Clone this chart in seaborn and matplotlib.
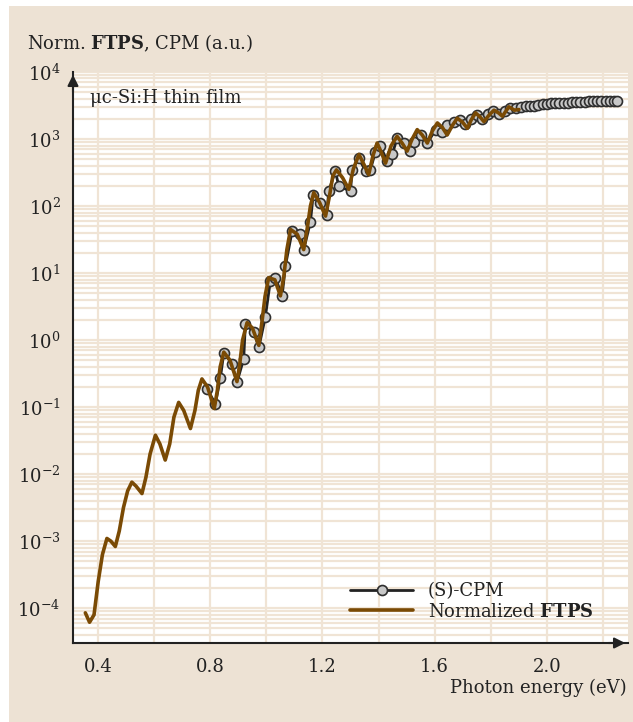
import numpy as np
import pandas as pd
import matplotlib
matplotlib.use("Agg")
import matplotlib.pyplot as plt
import matplotlib.ticker as mticker
from matplotlib.patches import Rectangle
import seaborn as sns

# ---------------- data ----------------
# Normalized FTPS: photon energy (eV) and log10 of signal (a.u.)
ftps_energy = [0.354, 0.369, 0.385, 0.400, 0.415, 0.431, 0.445, 0.461, 0.475, 0.490,
               0.505, 0.520, 0.535, 0.556, 0.570, 0.585, 0.604, 0.620, 0.639, 0.655,
               0.670, 0.687, 0.705, 0.729, 0.745, 0.757, 0.770, 0.790, 0.814, 0.825,
               0.835, 0.848, 0.870, 0.895, 0.905, 0.915, 0.931, 0.950, 0.973, 0.985,
               0.995, 1.008, 1.030, 1.050, 1.062, 1.073, 1.086, 1.110, 1.133, 1.145,
               1.157, 1.169, 1.190, 1.211, 1.225, 1.237, 1.250, 1.272, 1.294, 1.310,
               1.330, 1.348, 1.365, 1.380, 1.395, 1.410, 1.425, 1.445, 1.466, 1.484,
               1.502, 1.520, 1.538, 1.556, 1.574, 1.592, 1.610, 1.628, 1.645, 1.663,
               1.681, 1.700, 1.717, 1.730, 1.746, 1.762, 1.776, 1.795, 1.812, 1.828,
               1.842, 1.855, 1.865, 1.885, 1.901]
ftps_log10 = [-4.07, -4.21, -4.10, -3.60, -3.20, -2.96, -3.00, -3.08, -2.85, -2.50,
              -2.25, -2.12, -2.18, -2.29, -2.05, -1.70, -1.42, -1.55, -1.79, -1.55,
              -1.15, -0.93, -1.05, -1.32, -1.05, -0.75, -0.58, -0.70, -1.02, -0.75,
              -0.40, -0.18, -0.30, -0.62, -0.35, 0.00, 0.26, 0.18, -0.08, 0.30,
              0.65, 0.93, 0.90, 0.66, 0.95, 1.35, 1.65, 1.58, 1.35, 1.65,
              2.00, 2.20, 2.05, 1.85, 2.15, 2.45, 2.54, 2.42, 2.25, 2.55,
              2.77, 2.62, 2.47, 2.75, 2.94, 2.80, 2.64, 2.90, 3.04, 2.94,
              2.82, 3.00, 3.14, 3.06, 2.94, 3.12, 3.24, 3.17, 3.06, 3.20,
              3.31, 3.25, 3.16, 3.28, 3.39, 3.33, 3.26, 3.36, 3.43, 3.39,
              3.34, 3.42, 3.48, 3.43, 3.44]

# (S)-CPM: photon energy (eV) and log10 of signal (a.u.)
cpm_energy = [0.788, 0.818, 0.836, 0.848, 0.877, 0.895, 0.919, 0.925, 0.955, 0.973,
              0.996, 1.014, 1.032, 1.056, 1.068, 1.092, 1.121, 1.133, 1.157, 1.167,
              1.190, 1.216, 1.222, 1.246, 1.258, 1.300, 1.306, 1.330, 1.354, 1.371,
              1.389, 1.407, 1.431, 1.449, 1.466, 1.490, 1.514, 1.526, 1.550, 1.574,
              1.604, 1.627, 1.645, 1.669, 1.690, 1.710, 1.730, 1.750, 1.770, 1.790,
              1.810, 1.830, 1.850, 1.870, 1.890, 1.910, 1.925, 1.940, 1.955, 1.970,
              1.985, 2.000, 2.015, 2.030, 2.045, 2.060, 2.075, 2.090, 2.105, 2.120,
              2.135, 2.150, 2.165, 2.180, 2.195, 2.210, 2.225, 2.240, 2.250]
cpm_log10 = [-0.73, -0.95, -0.56, -0.19, -0.35, -0.63, -0.28, 0.24, 0.12, -0.11,
             0.34, 0.88, 0.93, 0.66, 1.11, 1.63, 1.58, 1.35, 1.76, 2.17,
             2.05, 1.87, 2.22, 2.52, 2.30, 2.22, 2.54, 2.71, 2.52, 2.54,
             2.81, 2.89, 2.67, 2.77, 3.01, 2.94, 2.82, 2.96, 3.06, 2.94,
             3.14, 3.11, 3.21, 3.26, 3.28, 3.22, 3.30, 3.36, 3.30, 3.38,
             3.42, 3.38, 3.42, 3.46, 3.46, 3.48, 3.49, 3.50, 3.50, 3.51,
             3.52, 3.52, 3.53, 3.53, 3.54, 3.54, 3.54, 3.55, 3.55, 3.55,
             3.55, 3.56, 3.56, 3.56, 3.56, 3.56, 3.56, 3.56, 3.56]

x_ticks = [0.4, 0.8, 1.2, 1.6, 2.0]
x_tick_labels = ["0.4", "0.8", "1.2", "1.6", "2.0"]
y_tick_exponents = [-4, -3, -2, -1, 0, 1, 2, 3, 4]

title_text = r"Norm. $\mathbf{FTPS}$, CPM (a.u.)"
xlabel_text = "Photon energy (eV)"
film_text = "μc-Si:H thin film"
cpm_label = "(S)-CPM"
ftps_label = r"Normalized $\mathbf{FTPS}$"

ftps_df = pd.DataFrame({"E": ftps_energy, "S": np.power(10.0, ftps_log10)})
cpm_df = pd.DataFrame({"E": cpm_energy, "S": np.power(10.0, cpm_log10)})

# ---------------- style ----------------
sns.set_style("white")
plt.rcParams["font.family"] = ["DejaVu Serif"]
plt.rcParams["mathtext.fontset"] = "dejavuserif"

BEIGE = "#ede2d4"
GRID = "#f0e4d5"
BROWN = "#7a4a04"
DARK = "#222222"

W, H = 633, 722
fig = plt.figure(figsize=(W / 100, H / 100), dpi=100, facecolor="white")
fig.patches.append(Rectangle((9 / W, 0), 1, (H - 6) / H, transform=fig.transFigure,
                             facecolor=BEIGE, edgecolor="none", zorder=-10))

ax = fig.add_axes([73 / W, 1 - 643 / H, (628 - 73) / W, (643 - 72) / H])
ax.set_facecolor("white")

sns.lineplot(data=cpm_df, x="E", y="S", ax=ax, sort=False, estimator=None,
             color=DARK, lw=2.0, marker="o", markersize=7.2,
             markerfacecolor="#c8c8c8", markeredgecolor="#2e2e2e",
             markeredgewidth=1.2, zorder=3, label=cpm_label)
sns.lineplot(data=ftps_df, x="E", y="S", ax=ax, sort=False, estimator=None,
             color=BROWN, lw=2.6, zorder=4, label=ftps_label)

ax.set_yscale("log")
ax.set_xlim(0.31, 2.29)
ax.set_ylim(10 ** -4.52, 1e4)

ax.set_xticks(x_ticks)
ax.set_xticklabels(x_tick_labels)
ax.xaxis.set_minor_locator(mticker.FixedLocator([0.6, 1.0, 1.4, 1.8, 2.2]))
ax.set_yticks([10.0 ** k for k in y_tick_exponents])
ax.set_yticklabels([r"$10^{%d}$" % k for k in y_tick_exponents])
ax.yaxis.set_minor_locator(mticker.LogLocator(base=10, subs=np.arange(2, 10), numticks=100))
ax.yaxis.set_minor_formatter(mticker.NullFormatter())

ax.grid(True, which="both", color=GRID, lw=1.6, zorder=0)
ax.set_axisbelow(True)
ax.tick_params(axis="both", which="both", length=0, labelsize=13, colors="#222222")
ax.tick_params(axis="y", pad=9)
ax.tick_params(axis="x", pad=11)
ax.set_xlabel("")
ax.set_ylabel("")
ax.xaxis.label.set_visible(False)
ax.yaxis.label.set_visible(False)

for s in ["top", "right"]:
    ax.spines[s].set_visible(False)
for s in ["left", "bottom"]:
    ax.spines[s].set_color(DARK)
    ax.spines[s].set_linewidth(1.5)

ax.annotate("", xy=(0, 1.0), xytext=(0, 0.96), xycoords="axes fraction",
            arrowprops=dict(arrowstyle="-|>", color=DARK, lw=1.5, mutation_scale=16),
            annotation_clip=False)
ax.annotate("", xy=(1.0, 0), xytext=(0.96, 0), xycoords="axes fraction",
            arrowprops=dict(arrowstyle="-|>", color=DARK, lw=1.5, mutation_scale=16),
            annotation_clip=False)

fig.text(27 / W, 1 - 43 / H, title_text, fontsize=13, va="center", ha="left", color="#222")
fig.text(627 / W, 1 - 688 / H, xlabel_text, fontsize=13, va="center", ha="right", color="#222")
fig.text(90 / W, 1 - 98 / H, film_text, fontsize=13, va="center", ha="left", color="#222")

leg = ax.legend(loc="upper left", bbox_to_anchor=(350 / W, 1 - 582 / H),
                bbox_transform=fig.transFigure, frameon=False, fontsize=13,
                handlelength=3.5, handletextpad=0.8, borderpad=0, borderaxespad=0,
                labelspacing=0.15, numpoints=1)
for t in leg.get_texts():
    t.set_color("#222")

fig.savefig("out.png", dpi=100, facecolor="white")
